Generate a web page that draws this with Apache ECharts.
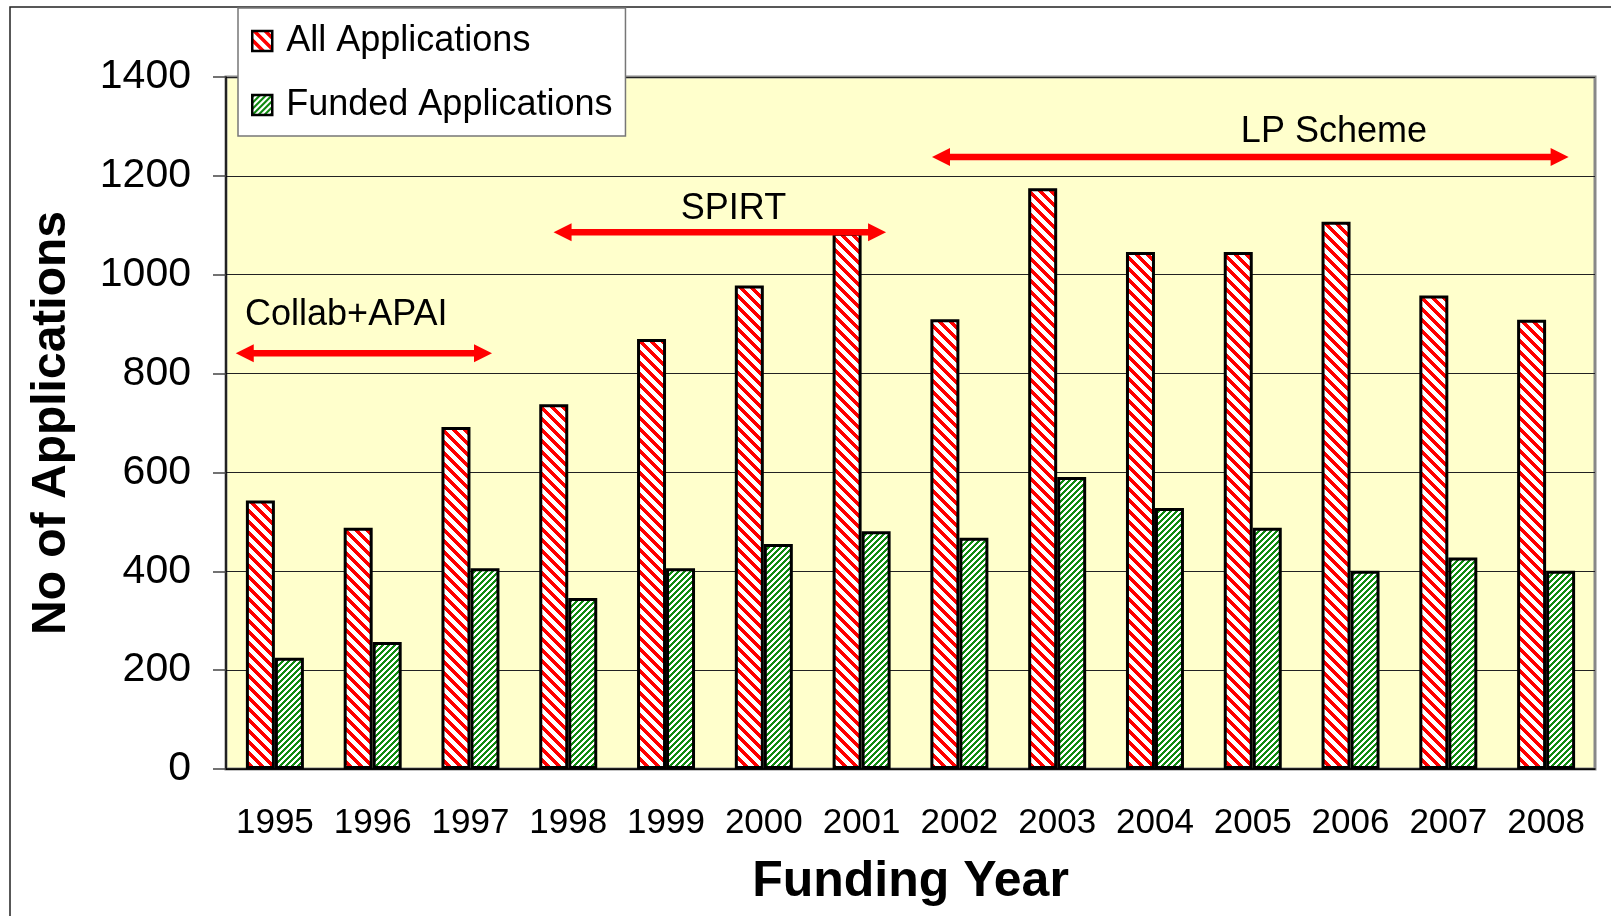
<!DOCTYPE html>
<html>
<head>
<meta charset="utf-8">
<script src="https://cdn.jsdelivr.net/npm/echarts@6/dist/echarts.min.js"></script>
<style>
  html, body { margin: 0; padding: 0; background: #fff; }
  #main { width: 1611px; height: 916px; }
</style>
</head>
<body>
<div id="main"></div>
<script>
// funding years and application counts
var years = ['1995', '1996', '1997', '1998', '1999', '2000', '2001',
             '2002', '2003', '2004', '2005', '2006', '2007', '2008'];
var allApps = [543, 488, 692, 738, 870, 978, 1085, 910, 1175, 1046, 1046, 1107, 958, 909];
var fundedApps = [225, 257, 406, 346, 406, 455, 481, 468, 591, 528, 488, 401, 428, 401];
var yTicks = [0, 200, 400, 600, 800, 1000, 1200, 1400];

// scheme periods (x in category units, -0.5 .. 13.5)
var periodNames = ['Collab+APAI', 'SPIRT', 'LP Scheme'];
var periodStart = [-0.4, 2.85, 6.72];
var periodEnd = [2.22, 6.25, 13.23];
var periodLevel = [841, 1086, 1238];
var labelX = [0.73, 4.69, 10.83];
var labelY = [919, 1133, 1288];

// hatch fills like the old excel chart
function stripes(size, band, fg, dir) {
  var c = document.createElement('canvas');
  c.width = c.height = size;
  var ctx = c.getContext('2d');
  ctx.fillStyle = '#fff';
  ctx.fillRect(0, 0, size, size);
  ctx.fillStyle = fg;
  for (var y = 0; y < size; y++) {
    for (var x = 0; x < size; x++) {
      var k = dir > 0 ? (x + y) % size : ((x - y) % size + size) % size;
      if (k < band) ctx.fillRect(x, y, 1, 1);
    }
  }
  return c;
}
var redHatch = { image: stripes(11, 5, '#ff0000', -1), repeat: 'repeat' };
var greenHatch = { image: stripes(6, 3, '#108a10', 1), repeat: 'repeat' };

var periods = periodNames.map(function (n, i) {
  return [periodStart[i], periodEnd[i], periodLevel[i], labelX[i], labelY[i], n];
});

var font = 'Liberation Sans, Arial, sans-serif';
var chart = echarts.init(document.getElementById('main'));

chart.setOption({
  animation: false,
  backgroundColor: '#fff',
  graphic: [{
    type: 'rect',
    shape: { x: 10, y: 7, width: 1700, height: 1000 },
    style: { fill: 'none', stroke: '#222', lineWidth: 1.5 },
    z: -10
  }],
  grid: {
    left: 226, right: 16, top: 77, bottom: 147,
    show: true,
    backgroundColor: '#ffffcc',
    borderColor: '#888',
    borderWidth: 3
  },
  legend: {
    orient: 'vertical',
    left: 238, top: 8,
    padding: [13, 13, 11, 13],
    itemGap: 24,
    itemWidth: 20, itemHeight: 20,
    icon: 'rect',
    backgroundColor: '#fff',
    borderColor: '#777',
    borderWidth: 1.5,
    itemStyle: { borderWidth: 2.5, borderColor: '#000' },
    textStyle: { fontFamily: font, fontSize: 36, color: '#000', lineHeight: 40, padding: [0, 0, 0, 9] },
    data: ['All Applications', 'Funded Applications']
  },
  xAxis: [{
    type: 'category',
    data: years,
    name: 'Funding Year',
    nameLocation: 'middle',
    nameGap: 88,
    nameTextStyle: { fontFamily: font, fontSize: 50, fontWeight: 'bold', color: '#000' },
    axisLine: { lineStyle: { color: '#000', width: 1.5 } },
    axisTick: { length: 12, interval: 0, lineStyle: { color: '#444', width: 1.5 } },
    axisLabel: { interval: 0, margin: 37, fontFamily: font, fontSize: 35, color: '#000' }
  }, {
    type: 'value',
    min: -0.5, max: 13.5,
    show: false
  }],
  yAxis: {
    type: 'value',
    min: yTicks[0], max: yTicks[yTicks.length - 1], interval: 200,
    name: 'No of Applications',
    nameLocation: 'middle',
    nameGap: 150,
    nameTextStyle: { fontFamily: font, fontSize: 48, fontWeight: 'bold', color: '#000' },
    axisLine: { show: true, onZero: false, lineStyle: { color: '#000', width: 1.5 } },
    axisTick: { show: true, length: 13, lineStyle: { color: '#444', width: 1.5 } },
    axisLabel: {
      margin: 35, fontFamily: font, fontSize: 41, color: '#000',
      formatter: function (v) { return String(v); }
    },
    splitLine: { lineStyle: { color: '#222', width: 1.2 } }
  },
  series: [{
    name: 'All Applications',
    type: 'bar',
    data: allApps,
    barWidth: 29,
    barGap: '0%',
    itemStyle: { color: redHatch, borderColor: '#000', borderWidth: 3 }
  }, {
    name: 'Funded Applications',
    type: 'bar',
    data: fundedApps,
    barWidth: 29,
    itemStyle: { color: greenHatch, borderColor: '#000', borderWidth: 3 }
  }, {
    // period arrows + their labels
    type: 'custom',
    xAxisIndex: 1,
    yAxisIndex: 0,
    data: periods,
    z: 10,
    renderItem: function (params, api) {
      var a = api.coord([api.value(0), api.value(2)]);
      var b = api.coord([api.value(1), api.value(2)]);
      var t = api.coord([api.value(3), api.value(4)]);
      var hl = 18, hw = 9;
      return {
        type: 'group',
        children: [{
          type: 'line',
          shape: { x1: a[0] + hl - 2, y1: a[1], x2: b[0] - hl + 2, y2: b[1] },
          style: { stroke: '#ff0000', lineWidth: 6.5 }
        }, {
          type: 'polygon',
          shape: { points: [[a[0], a[1]], [a[0] + hl, a[1] - hw], [a[0] + hl, a[1] + hw]] },
          style: { fill: '#ff0000' }
        }, {
          type: 'polygon',
          shape: { points: [[b[0], b[1]], [b[0] - hl, b[1] - hw], [b[0] - hl, b[1] + hw]] },
          style: { fill: '#ff0000' }
        }, {
          type: 'text',
          x: t[0], y: t[1],
          style: {
            text: periodNames[params.dataIndex],
            fontFamily: font, fontSize: 36, fill: '#000',
            align: 'center', verticalAlign: 'middle'
          }
        }]
      };
    }
  }]
});
</script>
</body>
</html>
